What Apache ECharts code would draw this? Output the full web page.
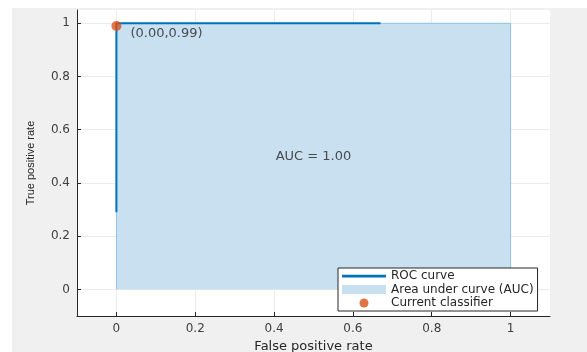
<!DOCTYPE html>
<html><head><meta charset="utf-8">
<script src="https://cdn.jsdelivr.net/npm/echarts@6/dist/echarts.min.js"></script>
<style>html,body{margin:0;padding:0;background:#fff;width:587px;height:352px;overflow:hidden}
#c{position:absolute;left:12px;top:8px;width:575px;height:344px;background:#f0f0f0}</style>
</head><body><div id="c"></div>
<script>
const xTicks = [0, 0.2, 0.4, 0.6, 0.8, 1];
const yTicks = [0, 0.2, 0.4, 0.6, 0.8, 1];
const rocFpr = [0, 0, 0.67];
const rocTpr = [0.29, 1, 1];
const aucFpr = [0, 0, 1, 1];
const aucTpr = [0, 1, 1, 0];
const classifierPoint = [0.00, 0.99];
const aucValue = 1.00;

const chart = echarts.init(document.getElementById('c'), null, {renderer:'canvas'});
const wide = 'DejaVu Sans, Verdana, sans-serif';
const narrow = 'Liberation Sans, Arial, Helvetica, sans-serif';
chart.setOption({
  animation:false,
  backgroundColor:'#f0f0f0',
  textStyle:{fontFamily:wide},
  grid:{left:65,top:2,right:37,bottom:36,show:true,backgroundColor:'#fff',borderWidth:0,
    containLabel:false,outerBoundsMode:'none'},
  xAxis:{type:'value',min:-0.1,max:1.1,
    name:'False positive rate',nameLocation:'middle',nameGap:21,
    nameTextStyle:{fontSize:13,color:'#262626',fontFamily:wide},
    axisLine:{show:true,onZero:false,lineStyle:{color:'#262626',width:1}},
    axisTick:{show:true,inside:true,length:4,customValues:xTicks,lineStyle:{color:'#262626'}},
    axisLabel:{customValues:xTicks,fontSize:12,color:'#404040',margin:7,fontFamily:wide,formatter:v=>String(+v.toFixed(1))},
    splitLine:{show:true,lineStyle:{color:'#ebebeb',width:1}}},
  yAxis:{type:'value',min:-0.1,max:1.05,
    name:'True positive rate',nameLocation:'middle',nameGap:41,
    nameTextStyle:{fontSize:11,color:'#262626',fontFamily:narrow},
    axisLine:{show:true,onZero:false,lineStyle:{color:'#262626',width:1}},
    axisTick:{show:true,inside:true,length:4,customValues:yTicks,lineStyle:{color:'#262626'}},
    axisLabel:{customValues:yTicks,fontSize:12,color:'#404040',margin:7,fontFamily:wide,formatter:v=>String(+v.toFixed(1))},
    splitLine:{show:true,lineStyle:{color:'#ebebeb',width:1}}},
  legend:{orient:'vertical',left:326,top:260,
    backgroundColor:'#fff',borderColor:'#262626',borderWidth:1,borderRadius:0,
    padding:[2,4,2,4],itemGap:1.5,itemWidth:44,itemHeight:9,
    textStyle:{fontSize:12,lineHeight:12,color:'#262626',fontFamily:wide},
    data:[
      {name:'ROC curve',icon:'path://M0,0 L40,0 L40,2.5 L0,2.5 Z'},
      {name:'Area under curve (AUC)',icon:'rect'},
      {name:'Current classifier',icon:'circle'}]},
  series:[
    {name:'Area under curve (AUC)',type:'line',data:aucFpr.map((x,i)=>[x,aucTpr[i]]),
      showSymbol:false,symbol:'none',lineStyle:{color:'#8ec0e8',width:1},
      areaStyle:{color:'#c9e0f0',opacity:1},itemStyle:{color:'#c9e0f0'},z:1},
    {name:'ROC curve',type:'line',data:rocFpr.map((x,i)=>[x,rocTpr[i]]),
      showSymbol:false,symbol:'none',lineStyle:{color:'#0072BD',width:2},itemStyle:{color:'#0072BD'},z:3},
    {name:'Current classifier',type:'scatter',data:[classifierPoint],symbolSize:10,
      itemStyle:{color:'#D95319'},z:4,
      label:{show:true,position:'right',offset:[4,8],fontSize:13,color:'#262626',fontFamily:wide,
        formatter:p=>'('+p.value[0].toFixed(2)+','+p.value[1].toFixed(2)+')'}},
    {name:'auc',type:'scatter',data:[[0.5,0.5]],symbolSize:0,silent:true,z:5,
      label:{show:true,position:'inside',fontSize:13,color:'#262626',fontFamily:wide,
        formatter:()=>'AUC = '+aucValue.toFixed(2)}}
  ]
});
</script></body></html>
